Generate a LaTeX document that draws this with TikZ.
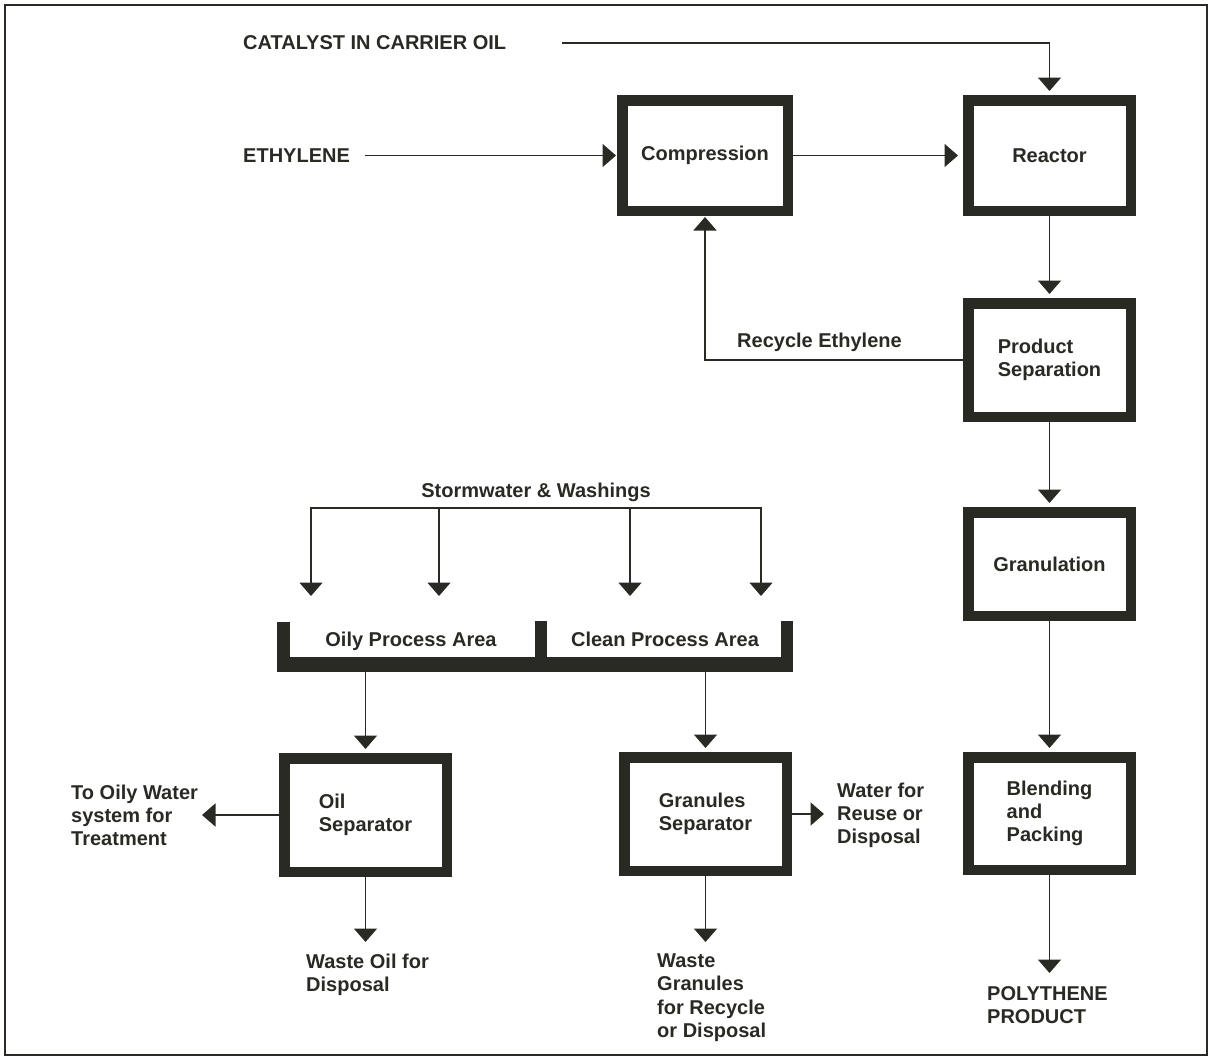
\documentclass[tikz,border=0pt]{standalone}
\usepackage{fontspec}
\setmainfont{Liberation Sans}
\usetikzlibrary{arrows.meta}
\definecolor{ink}{RGB}{42,42,36}
\begin{document}
\begin{tikzpicture}[x=1pt,y=-1pt,
  every node/.style={text=ink, font=\fontsize{20}{23.3}\selectfont\bfseries, inner sep=0pt},
  unit/.style={draw=ink, line width=10.5pt, fill=white, align=left},
  flow/.style={draw=ink, line width=1.8pt, -{Triangle[width=23pt,length=13.5pt]}},
  lbl/.style={align=left, anchor=north west},
  wall/.style={fill=ink}
]
\useasboundingbox (0,0) rectangle (1209,1057);
\draw[ink, line width=2.5pt] (5,5) rectangle (1207,1055);

% process units
\node[unit, minimum width=165.5pt, minimum height=110.5pt] (comp)    at (705,155.5)  {Compression};
\node[unit, minimum width=162.5pt, minimum height=110.5pt] (reactor) at (1049.5,155.5) {Reactor};
\node[unit, minimum width=162.5pt, minimum height=113.5pt] (prodsep) at (1049.5,360) {Product\\Separation};
\node[unit, minimum width=162.5pt, minimum height=103.5pt] (gran)    at (1049.5,564)  {Granulation};
\node[unit, minimum width=162.5pt, minimum height=112.5pt] (blend)   at (1049.5,813.5) {Blending\\and\\Packing};
\node[unit, minimum width=162.5pt, minimum height=113.5pt] (oilsep)  at (365.5,815) {Oil\\Separator};
\node[unit, minimum width=162.5pt, minimum height=113.5pt] (gransep) at (705.5,814) {Granules\\Separator};

% stream labels
\node[anchor=base west] (cat) at (243,50)  {CATALYST IN CARRIER OIL};
\node[anchor=base west] (eth) at (243,162) {ETHYLENE};
\node[anchor=base west] (rec) at (737,347) {Recycle Ethylene};
\node[anchor=base] (storm) at (536,497) {Stormwater \& Washings};
\node[anchor=base] (oily)  at (411,646) {Oily Process Area};
\node[anchor=base] (clean) at (665,646) {Clean Process Area};
\node[lbl] (towater)  at (71,784.5)  {To Oily Water\\system for\\Treatment};
\node[lbl] (wasteoil) at (306,953.5) {Waste Oil for\\Disposal};
\node[lbl] (water)    at (837,782.5) {Water for\\Reuse or\\Disposal};
\node[lbl] (wastegr)  at (657,953.5) {Waste\\Granules\\for Recycle\\or Disposal};
\node[lbl] (product)  at (987,986.5) {POLYTHENE\\PRODUCT};

% drainage tray
\fill[wall] (277,622) rectangle (290,672);
\fill[wall] (535,621) rectangle (547,672);
\fill[wall] (781,621) rectangle (793,672);
\fill[wall] (277,657) rectangle (793,672);
\coordinate (trayb) at (541,672);

% main line
\coordinate (catstart) at (562,43);
\coordinate (ethstart) at (365,155.5);
\draw[flow, shorten >=4pt] (catstart) -| (reactor.north);
\draw[flow, shorten >=1pt] (ethstart) -- (comp.west);
\draw[flow, shorten >=5pt] (comp.east) -- (reactor.west);
\draw[flow, shorten >=4pt] (reactor.south) -- (prodsep.north);
\draw[flow, shorten >=1pt] (prodsep.west) -| (comp.south);
\draw[flow, shorten >=4pt] (prodsep.south) -- (gran.north);
\draw[flow, shorten >=4pt] (gran.south) -- (blend.north);
\coordinate (prodtip) at (1050,973);
\draw[flow] (blend.south) -- (blend.south |- prodtip);

% stormwater distribution
\coordinate (bus) at (536,508);
\coordinate (d1) at (311,596);
\coordinate (d2) at (439,596);
\coordinate (d3) at (630,596);
\coordinate (d4) at (761,596);
\draw[flow] (bus) -| (d1);
\draw[flow] (bus) -| (d4);
\draw[flow] (d2 |- bus) -- (d2);
\draw[flow] (d3 |- bus) -- (d3);

% effluent treatment
\draw[flow, shorten >=4pt] (oilsep.north |- trayb) -- (oilsep.north);
\draw[flow, shorten >=4pt] (gransep.north |- trayb) -- (gransep.north);
\coordinate (owtip) at (202,816);
\coordinate (wtip) at (824,814);
\coordinate (wotip) at (367,942);
\coordinate (wgtip) at (707,942);
\draw[flow] (oilsep.west) -- (oilsep.west -| owtip);
\draw[flow] (oilsep.south) -- (oilsep.south |- wotip);
\draw[flow] (gransep.east) -- (gransep.east -| wtip);
\draw[flow] (gransep.south) -- (gransep.south |- wgtip);
\end{tikzpicture}
\end{document}
